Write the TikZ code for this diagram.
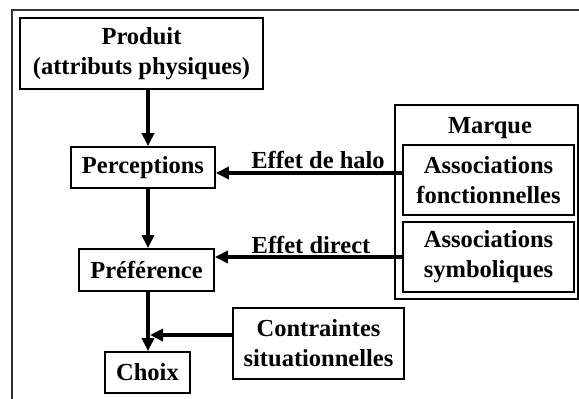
\documentclass[tikz,border=0pt]{standalone}
\usepackage{fontspec}
\setmainfont{Liberation Serif}
\usetikzlibrary{arrows.meta}
\begin{document}
\begin{tikzpicture}[x=1pt,y=-1pt,
  box/.style={draw=black,line width=1.8pt,inner sep=0pt,align=center,font=\fontsize{24.5}{30}\selectfont\bfseries},
  lbl/.style={inner sep=0pt,font=\fontsize{24.5}{30}\selectfont\bfseries},
  arr/.style={line width=4pt,-{Triangle[length=13pt,width=12pt]}},
  ln/.style={line width=4pt}]
\useasboundingbox (0,0) rectangle (579,399);
\draw[line width=1.2pt,black!80] (12,399) -- (12,10) -- (579,10);
\node[box,minimum width=243pt,minimum height=71pt] (prod) at (141.5,53.5) {Produit\\(attributs physiques)};
\node[box,minimum width=144pt,minimum height=41pt] (perc) at (143,167.5) {Perceptions};
\node[box,minimum width=135pt,minimum height=42pt] (pref) at (146.5,270) {Préférence};
\node[box,minimum width=85pt,minimum height=41pt] (choix) at (147.5,372.5) {Choix};
\node[box,minimum width=171pt,minimum height=71pt] (contr) at (318.5,343.5) {Contraintes\\situationnelles};
\node[box,line width=1.2pt,minimum width=183pt,minimum height=194pt] (marque) at (486.5,202) {};
\node[lbl] (mlab) at (490,128) {Marque};
\node[box,minimum width=171pt,minimum height=70pt] (af) at (488.5,180) {Associations\\fonctionnelles};
\node[box,minimum width=171pt,minimum height=70pt] (as) at (488.5,257) {Associations\\symboliques};
\coordinate (xc) at (148,0);
\draw[arr] (prod.south -| xc) -- (perc.north -| xc);
\draw[arr] (perc.south -| xc) -- (pref.north -| xc);
\draw[arr] (pref.south -| xc) -- (choix.north -| xc);
\coordinate (yh) at (0,173);
\draw[arr] (af.west |- yh) -- (perc.east |- yh);
\draw[ln] (af.west |- yh) -- (marque.west |- yh);
\node[lbl] (halo) at (318,160) {Effet de halo};
\draw[arr] (as.west) -- (pref.east |- as.west);
\node[lbl] (direct) at (311,245) {Effet direct};
\coordinate (yc) at (0,335);
\draw[arr] (contr.west |- yc) -- (150,335);
\end{tikzpicture}
\end{document}
